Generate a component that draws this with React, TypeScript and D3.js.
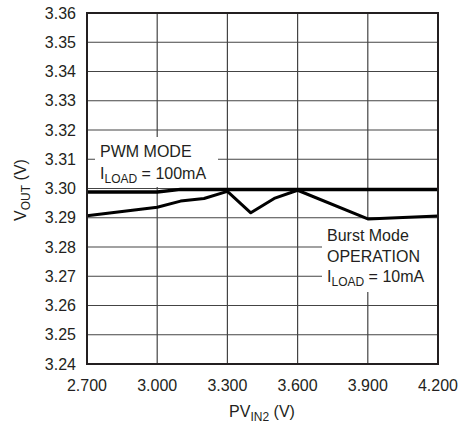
import * as d3 from "d3";

// x ticks (PV_IN2, V)
const xTicks = [2.7, 3.0, 3.3, 3.6, 3.9, 4.2];
// y ticks (V_OUT, V)
const yTicks = [3.24, 3.25, 3.26, 3.27, 3.28, 3.29, 3.3, 3.31, 3.32, 3.33, 3.34, 3.35, 3.36];

// PWM mode, I_LOAD = 100mA
const pwmVin = [2.7, 3.0, 3.1, 3.3, 3.6, 3.9, 4.2];
const pwmVout = [3.2988, 3.2988, 3.2997, 3.2997, 3.2997, 3.2997, 3.2997];

// Burst Mode operation, I_LOAD = 10mA
const burstVin = [2.7, 3.0, 3.1, 3.2, 3.3, 3.4, 3.5, 3.6, 3.9, 4.2];
const burstVout = [3.2907, 3.2936, 3.2957, 3.2966, 3.299, 3.2917, 3.2966, 3.2994, 3.2896, 3.2906];

const W = 461;
const H = 425;
const plot = { left: 87, top: 13, right: 438, bottom: 364 };
const font = "'Liberation Sans', Arial, sans-serif";
const ink = "#231f20";

export default function App() {
  const x = d3.scaleLinear().domain([2.7, 4.2]).range([plot.left, plot.right]);
  const y = d3.scaleLinear().domain([3.24, 3.36]).range([plot.bottom, plot.top]);

  const line = d3
    .line<[number, number]>()
    .x((d) => x(d[0]))
    .y((d) => y(d[1]));

  const pwm = pwmVin.map((v, i) => [v, pwmVout[i]] as [number, number]);
  const burst = burstVin.map((v, i) => [v, burstVout[i]] as [number, number]);

  return (
    <div style={{ position: "fixed", left: 0, top: 0 }}>
      <svg width={W} height={H} style={{ display: "block", background: "#fff" }}>
        {/* ── grid ───────────────────────────────────────── */}
        {yTicks.map((t) => (
          <line key={"gy" + t} x1={plot.left} x2={plot.right} y1={y(t)} y2={y(t)} stroke="#444" strokeWidth={1.2} />
        ))}
        {xTicks.map((t) => (
          <line key={"gx" + t} x1={x(t)} x2={x(t)} y1={plot.top} y2={plot.bottom} stroke="#444" strokeWidth={1.2} />
        ))}

        {/* label backgrounds knock out the grid */}
        <rect x={95} y={137} width={123} height={50} fill="#fff" />
        <rect x={322} y={220} width={115} height={72} fill="#fff" />

        {/* ── data ───────────────────────────────────────── */}
        <path d={line(pwm) ?? ""} fill="none" stroke="#000" strokeWidth={3.5} strokeLinejoin="round" />
        <path d={line(burst) ?? ""} fill="none" stroke="#000" strokeWidth={3} strokeLinejoin="round" />

        {/* ── frame ──────────────────────────────────────── */}
        <rect
          x={plot.left}
          y={plot.top}
          width={plot.right - plot.left}
          height={plot.bottom - plot.top}
          fill="none"
          stroke={ink}
          strokeWidth={2}
        />

        <g fontFamily={font} fontSize={16} fill={ink}>
          {yTicks.map((t) => (
            <text key={"ly" + t} x={76} y={y(t)} dy="0.35em" textAnchor="end">
              {t.toFixed(2)}
            </text>
          ))}
          {xTicks.map((t) => (
            <text key={"lx" + t} x={x(t)} y={391} textAnchor="middle">
              {t.toFixed(3)}
            </text>
          ))}

          <text x={262} y={417} textAnchor="middle">
            PV<tspan fontSize={12} dy={4}>IN2</tspan>
            <tspan dy={-4}> (V)</tspan>
          </text>
          <text transform="translate(26,190) rotate(-90)" textAnchor="middle">
            V<tspan fontSize={12} dy={4}>OUT</tspan>
            <tspan dy={-4}> (V)</tspan>
          </text>

          <text x={100} y={157}>PWM MODE</text>
          <text x={100} y={179}>
            I<tspan fontSize={12} dy={4}>LOAD</tspan>
            <tspan dy={-4}> = 100mA</tspan>
          </text>

          <text x={327} y={241}>Burst Mode</text>
          <text x={327} y={262}>OPERATION</text>
          <text x={327} y={282}>
            I<tspan fontSize={12} dy={4}>LOAD</tspan>
            <tspan dy={-4}> = 10mA</tspan>
          </text>
        </g>
      </svg>
    </div>
  );
}
